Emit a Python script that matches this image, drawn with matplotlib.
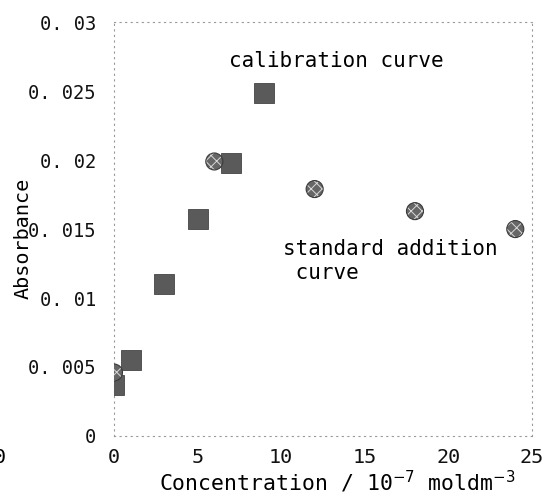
import matplotlib
matplotlib.use('Agg')
import matplotlib.pyplot as plt

# calibration curve (squares)
calib_x = [0, 1, 3, 5, 7, 9]
calib_y = [0.0037, 0.0055, 0.0110, 0.0157, 0.0198, 0.0249]

# standard addition curve (circles)
std_x = [0, 6, 12, 18, 24]
std_y = [0.0046, 0.0199, 0.0179, 0.0163, 0.0150]

xticks = [0, 5, 10, 15, 20, 25]
yticks = [0, 0.005, 0.01, 0.015, 0.02, 0.025, 0.03]
ytick_labels = ['0', '0. 005', '0. 01', '0. 015', '0. 02', '0. 025', '0. 03']

FONT = 'DejaVu Sans Mono'
plt.rcParams['font.family'] = FONT
plt.rcParams['hatch.linewidth'] = 0.7

fig = plt.figure(figsize=(5.47, 5.04), dpi=100)
ax = fig.add_axes([0.2084, 0.135, 0.7642, 0.821])

ax.plot(calib_x, calib_y, linestyle='none', marker='s', markersize=14,
        markerfacecolor='#5a5a5a', markeredgecolor='#444444', markeredgewidth=0.6,
        zorder=3)
# speckled grey circles
ax.scatter(std_x, std_y, s=150, marker='o', facecolor='#666666',
           edgecolor='#d8d8d8', hatch='xxx', linewidths=0, zorder=4)
ax.scatter(std_x, std_y, s=150, marker='o', facecolor='none',
           edgecolor='#3a3a3a', linewidths=0.8, zorder=5)

ax.set_xlim(0, 25)
ax.set_ylim(0, 0.03)
ax.set_xticks(xticks)
ax.set_xticklabels([str(t) for t in xticks])
ax.set_yticks(yticks)
ax.set_yticklabels(ytick_labels)
ax.tick_params(length=0, labelsize=14.5, colors='#111111')
ax.tick_params(axis='y', labelsize=13.5, pad=13)
ax.tick_params(axis='x', pad=9)

for s in ax.spines.values():
    s.set_linestyle((0, (1, 4)))
    s.set_color('#999999')
    s.set_linewidth(0.8)

ax.set_ylabel('Absorbance', fontsize=14.5)
ax.yaxis.set_label_coords(-0.195, 0.478)
ax.set_xlabel('Concentration / 10$^{-7}$ moldm$^{-3}$', fontsize=15.5, labelpad=1)
ax.xaxis.set_label_coords(0.535, -0.08)

ax.text(6.9, 0.0272, 'calibration curve', fontsize=15, va='center', ha='left')
ax.text(10.1, 0.0143, 'standard addition\n curve', fontsize=15, va='top', ha='left',
        linespacing=1.25)

# clipped label at the left edge of the scan
fig.text(-0.012, 0.093, '0', fontsize=14.5, ha='left', va='center')

fig.savefig('out.png', dpi=100, facecolor='white')
